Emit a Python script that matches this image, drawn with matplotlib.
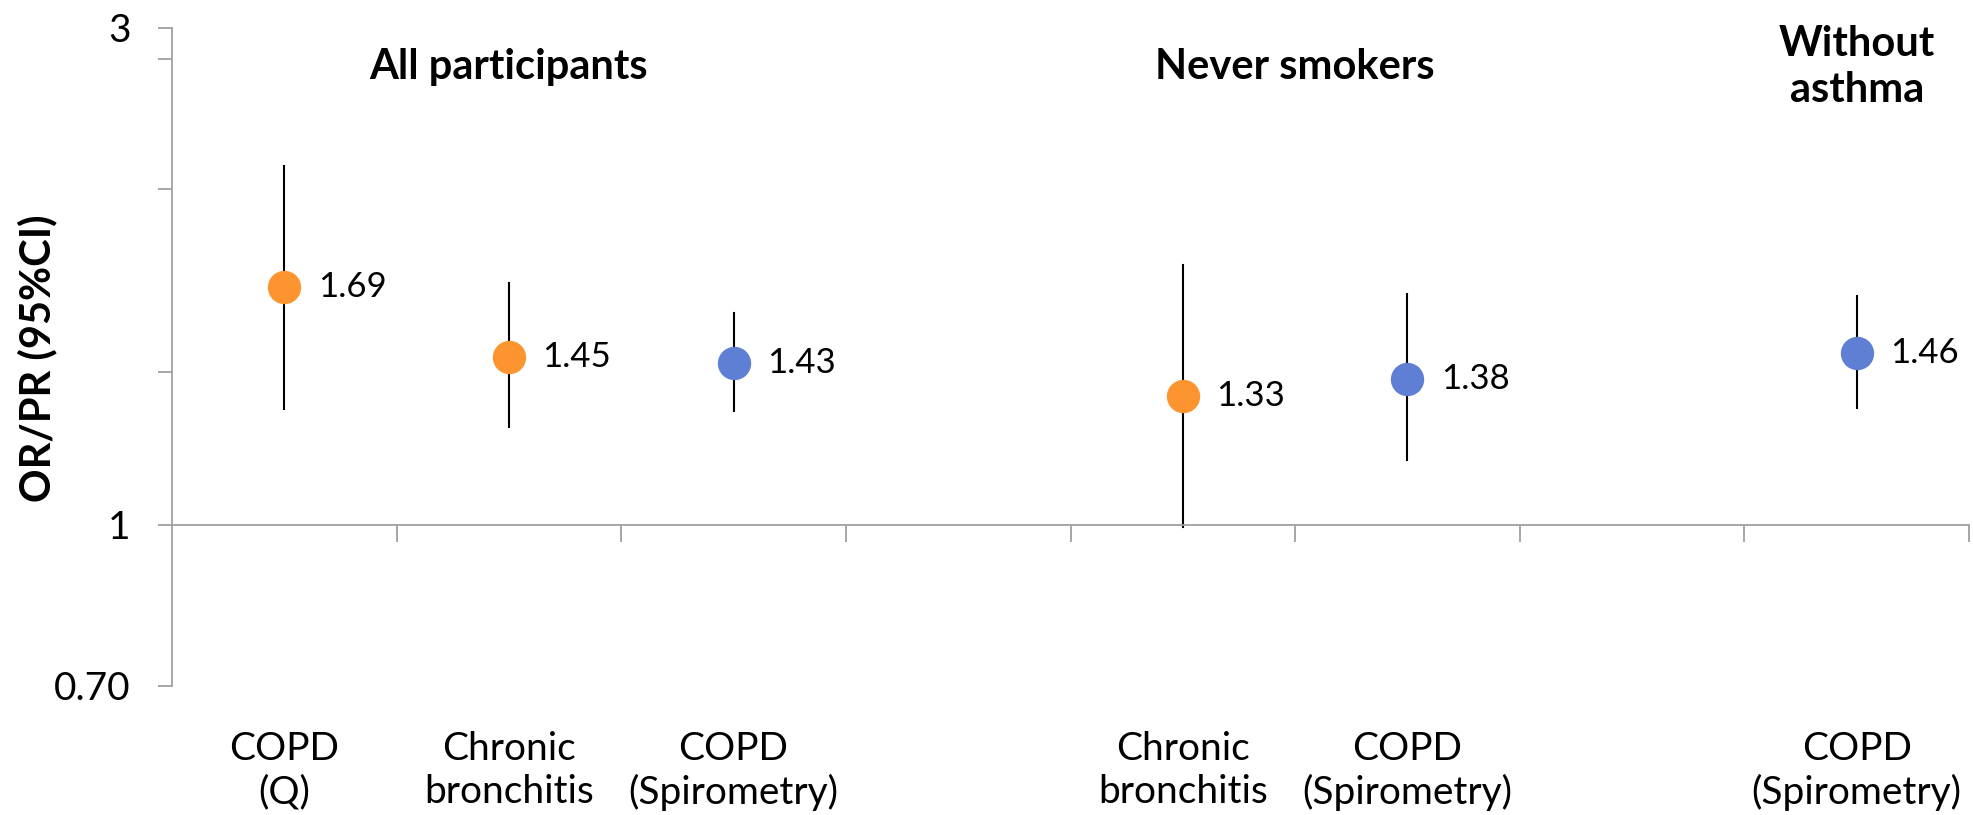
import matplotlib

matplotlib.use("Agg")
import matplotlib.pyplot as plt
import matplotlib.transforms as mtransforms

plt.rcParams["font.family"] = ["Lato", "DejaVu Sans"]

# slot labels along the x axis (empty slots separate the groups)
categories = [
    "COPD\n(Q)",
    "Chronic\nbronchitis",
    "COPD\n(Spirometry)",
    "",
    "Chronic\nbronchitis",
    "COPD\n(Spirometry)",
    "",
    "COPD\n(Spirometry)",
]

# estimates with 95% CI, one per plotted slot
point_slots = [0, 1, 2, 4, 5, 7]
estimates = [1.69, 1.45, 1.43, 1.33, 1.38, 1.46]
ci_lower = [1.29, 1.24, 1.285, 0.995, 1.153, 1.294]
ci_upper = [2.21, 1.707, 1.598, 1.777, 1.665, 1.657]
outcome_type = ["q", "q", "spiro", "q", "spiro", "spiro"]

group_titles = ["All participants", "Never smokers", "Without\nasthma"]
group_centers = [1.0, 4.5, 7.0]

y_ticks = [0.7, 1, 1.4, 2.1, 2.8, 3]
y_labels = {0.7: "0.70", 1: "1", 3: "3"}

colors = {"q": "#FC9530", "spiro": "#5F7FD4"}
axis_grey = "#A0A0A0"

fig = plt.figure(figsize=(19.73, 8.15), dpi=100)
ax = fig.add_axes([0.0872, 0.1583, 0.9108, 0.8077])

ax.set_yscale("log")
ax.set_ylim(0.7, 3)
ax.set_xlim(-0.5, len(categories) - 0.5)

for spine in ("top", "right"):
    ax.spines[spine].set_visible(False)
ax.spines["left"].set_color(axis_grey)
ax.spines["left"].set_linewidth(1.3)
ax.spines["bottom"].set_position(("data", 1))
ax.spines["bottom"].set_color(axis_grey)
ax.spines["bottom"].set_linewidth(1.3)

ax.set_yticks(y_ticks)
ax.set_yticklabels([y_labels.get(t, "") for t in y_ticks])
ax.yaxis.set_minor_locator(matplotlib.ticker.NullLocator())
ax.tick_params(axis="y", length=10, width=1.3, color=axis_grey,
               labelsize=28, pad=20)

boundaries = [i + 0.5 for i in range(len(categories))]
ax.set_xticks(boundaries)
ax.set_xticklabels([])
ax.tick_params(axis="x", length=12, width=1.3, color=axis_grey)

# category names sit below the plot, not at the y=1 crossing
lbl_trans = mtransforms.blended_transform_factory(ax.transData, ax.transAxes)
for i, name in enumerate(categories):
    if name:
        ax.text(i, -0.068, name, transform=lbl_trans, ha="center", va="top",
                fontsize=28, linespacing=1.25)

for x, est, lo, hi, kind in zip(point_slots, estimates, ci_lower, ci_upper, outcome_type):
    ax.plot([x, x], [lo, hi], color="black", linewidth=1.5, zorder=2)
    ax.plot(x, est, "o", markersize=24, color=colors[kind], zorder=3,
            markeredgewidth=0)
    ax.annotate(f"{est:.2f}", (x, est), xytext=(24, 0), textcoords="offset points",
                ha="left", va="center", fontsize=25)

for center, title in zip(group_centers, group_titles):
    ax.text(center, 0.94, title, transform=lbl_trans, ha="center", va="center",
            fontsize=30, fontweight="bold", linespacing=1.25)

fig.text(0.019, 0.56, "OR/PR (95%CI)", rotation=90, ha="center", va="center",
         fontsize=30, fontweight="bold")

fig.savefig("out.png", dpi=100)
